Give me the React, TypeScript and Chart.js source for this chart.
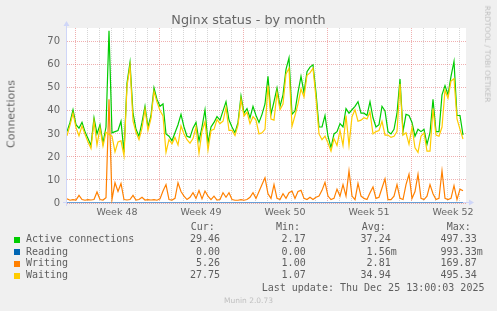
import React, { useEffect, useRef } from "react";
import { Chart, registerables } from "chart.js";

Chart.register(...registerables);

// ---- data (one sample every 6 hours) ----
const STEP_HOURS = 6;
const X_MAX_HOURS = 798;
const Y_MAX = 76;

const activeConnections = [
  31, 35, 40.5, 34, 32.5, 35, 31, 28, 25, 37, 30, 34, 26, 33, 74.8, 30.5, 31, 31.5, 35.5, 22, 52, 61, 39, 32, 29, 35, 42, 33, 38, 50, 45, 42, 43, 30,
  29, 27, 30.5, 34, 38.5, 33, 29, 28.5, 32.5, 35, 27, 33, 40.5, 26, 33, 35, 37.5, 36, 40, 44, 36, 33, 30.5, 35, 46.5, 39, 41, 37, 42, 38, 35, 38.5, 43,
  55, 38.5, 44, 50, 42, 47, 58, 63, 38.5, 40, 48, 55, 48, 57, 59, 60, 48, 33, 33, 38, 29, 24, 30, 31, 34.5, 33, 41, 39, 40.5, 42, 44, 39, 39,
  38, 44, 37, 33, 34, 42, 40, 31, 30, 32, 39, 53.8, 31, 38.5, 38, 35, 29, 32, 31, 32, 25.5, 30.5, 45, 31, 31, 47, 51, 47, 55, 61.5, 38, 38, 29.5,
];

const reading = [
  0, 0, 0, 0, 0, 0, 0, 0, 0, 0, 0, 0, 0, 0, 0, 0, 0, 0, 0, 0, 0, 0, 0, 0, 0, 0, 0, 0, 0, 0, 0, 0, 0, 0,
  0, 0, 0, 0, 0, 0, 0, 0, 0, 0, 0, 0, 0, 0, 0, 0, 0, 0, 0, 0, 0, 0, 0, 0, 0, 0, 0, 0, 0, 0, 0, 0, 0,
  0, 0, 0, 0, 0, 0, 0, 0, 0, 0, 0, 0, 0, 0, 0, 0, 0, 0, 0, 0, 0, 0, 0, 0, 0, 0, 0, 0, 0, 0, 0, 0, 0,
  0, 0, 0, 0, 0, 0, 0, 0, 0, 0, 0, 0, 0, 0, 0, 0, 0, 0, 0, 0, 0, 0, 0, 0, 0, 0, 0, 0, 0, 0, 0, 0, 0,
];

const writing = [
  1.8, 1.2, 1.5, 1.3, 3.3, 1.5, 1.2, 1.5, 1.3, 1.5, 4.8, 1.5, 1.3, 2.3, 45, 1.5, 8.8, 5, 8.5, 1.5, 1.3, 1.5, 3.3, 1.3, 1.5, 2.5, 1.3, 1.5, 1.3, 1.5, 1.2, 1.8, 5.2, 8,
  1.5, 1.3, 2, 8.8, 5, 3, 1.5, 2.5, 4.5, 2, 5.4, 1.8, 5.2, 3, 1.5, 3, 1.3, 1.5, 4.5, 2.5, 4.5, 1.5, 1.2, 1.2, 1.5, 1.2, 1.5, 2.5, 4.5, 2, 5, 8, 11,
  4, 2, 8, 2, 1.5, 4, 2, 4.5, 5.2, 2, 5, 5.5, 2, 1.5, 2.5, 1.5, 2.5, 3, 5.5, 9, 3, 1.5, 2, 6, 3, 8, 3, 14, 3, 1.5, 8.5, 3, 2,
  1.5, 4.5, 7, 2, 2.5, 6.5, 10.5, 1.5, 1.5, 3, 8, 2, 1.5, 8, 12.5, 2, 5, 12.5, 2, 1.5, 3, 8, 4, 1.5, 2, 14, 2, 1.5, 2, 7.5, 1.5, 6, 5.3,
];

const waiting = [
  29.2, 33.8, 39, 32.7, 29.2, 33.5, 29.8, 26.5, 23.7, 35.5, 25.2, 32.5, 24.7, 30.7, 29.8, 29, 22.2, 26.5, 27, 20.5, 50.7, 59.5, 35.7, 30.7, 27.5, 32.5, 40.7, 31.5, 36.7, 48.5, 43.8, 40.2, 37.8, 22,
  27.5, 25.7, 28.5, 25.2, 33.5, 30, 27.5, 26, 28, 33, 21.6, 31.2, 35.3, 23, 31.5, 32, 36.2, 34.5, 35.5, 41.5, 31.5, 31.5, 29.3, 33.8, 45, 37.8, 39.5, 34.5, 37.5, 36, 30, 30.5, 32,
  51, 36.5, 36, 48, 40.5, 43, 56, 58.5, 33.3, 38, 43, 49.5, 46, 55.5, 56.5, 58.5, 45.5, 30, 27.5, 29, 26, 22.5, 28, 25, 31.5, 25, 38, 25, 37.5, 40.5, 35.5, 36, 37,
  36.5, 39.5, 30, 31, 31.5, 35.5, 29.5, 29.5, 28.5, 29, 31, 51.8, 29.5, 30.5, 25.5, 33, 24, 22, 29, 30.5, 22.5, 22.5, 41, 29.5, 29, 33, 49, 45.5, 53, 54, 36.5, 32, 27.8,
];

const weekLabels = ["Week 48", "Week 49", "Week 50", "Week 51", "Week 52"];
const weekStartHours = [16, 184, 352, 520, 688]; // Monday 00:00 of each week
const yTickValues = [0, 5, 10, 15, 20, 25, 30, 35, 40, 45, 50, 55, 60, 65, 70, 75];

const legendRows = [
  { label: "Active connections", color: "#00cc00", cur: "29.46 ", min: "2.17 ", avg: "37.24 ", max: "497.33 " },
  { label: "Reading", color: "#0066b3", cur: "0.00 ", min: "0.00 ", avg: "1.56m", max: "993.33m" },
  { label: "Writing", color: "#ff8000", cur: "5.26 ", min: "1.00 ", avg: "2.81 ", max: "169.87 " },
  { label: "Waiting", color: "#ffcc00", cur: "27.75 ", min: "1.07 ", avg: "34.94 ", max: "495.34 " },
];

const GRID_MINOR = "rgba(140,140,140,0.36)";
const GRID_MAJOR = "rgba(222,79,79,0.45)";
const AXIS_COLOR = "#CFD6F8";
const TEXT_COLOR = "#666666";

function toPoints(values: number[]) {
  return values.map((v, i) => ({ x: i * STEP_HOURS, y: v }));
}

// x ticks every 12 hours so that both day lines and mid-week labels fall on ticks
const xTickHours: number[] = [];
for (let h = 4; h <= X_MAX_HOURS; h += 12) xTickHours.push(h);

const bgPlugin = {
  id: "canvasBg",
  beforeDraw(chart: any) {
    const { ctx, chartArea: a } = chart;
    ctx.save();
    ctx.fillStyle = "#ffffff";
    ctx.fillRect(a.left, a.top, a.right - a.left, a.bottom - a.top);
    ctx.restore();
  },
};

const axisPlugin = {
  id: "rrdAxes",
  beforeDatasetsDraw(chart: any) {
    const { ctx, chartArea: a } = chart;
    const x0 = a.left - 0.5;
    const y0 = a.bottom - 0.5;
    ctx.save();
    ctx.strokeStyle = AXIS_COLOR;
    ctx.fillStyle = AXIS_COLOR;
    ctx.lineWidth = 1;
    ctx.beginPath();
    ctx.moveTo(x0, a.bottom + 3);
    ctx.lineTo(x0, a.top - 3);
    ctx.moveTo(a.left - 4, y0);
    ctx.lineTo(a.right + 3, y0);
    ctx.stroke();
    // arrows
    ctx.beginPath();
    ctx.moveTo(x0 - 3, a.top - 2);
    ctx.lineTo(x0 + 3, a.top - 2);
    ctx.lineTo(x0, a.top - 7);
    ctx.closePath();
    ctx.fill();
    ctx.beginPath();
    ctx.moveTo(a.right + 3, y0 - 3);
    ctx.lineTo(a.right + 3, y0 + 3);
    ctx.lineTo(a.right + 8, y0);
    ctx.closePath();
    ctx.fill();
    ctx.restore();
  },
};

export default function App() {
  const ref = useRef<HTMLCanvasElement>(null);

  useEffect(() => {
    if (!ref.current) return;
    const line = (label: string, values: number[], color: string, order: number) => ({
      label,
      data: toPoints(values),
      borderColor: color,
      backgroundColor: color,
      borderWidth: 1.2,
      pointRadius: 0,
      tension: 0,
      fill: false,
      order,
    });
    const chart = new Chart(ref.current, {
      type: "line",
      data: {
        datasets: [
          line("Waiting", waiting, "#ffcc00", 0),
          line("Writing", writing, "#ff8000", 1),
          line("Reading", reading, "#0066b3", 2),
          line("Active connections", activeConnections, "#00cc00", 3),
        ],
      },
      options: {
        responsive: false,
        maintainAspectRatio: false,
        animation: false,
        devicePixelRatio: 1,
        layout: { padding: { left: 0, right: 31, top: 28, bottom: 0 } },
        plugins: {
          legend: { display: false },
          tooltip: { enabled: false },
          title: { display: false },
        },
        scales: {
          x: {
            type: "linear",
            min: 0,
            max: X_MAX_HOURS,
            afterBuildTicks: (s: any) => {
              s.ticks = xTickHours.map((v) => ({ value: v }));
            },
            afterFit: (s: any) => {
              s.height = 27;
            },
            grid: {
              drawTicks: false,
              lineWidth: 1,
              color: (c: any) => {
                const v = c.tick ? c.tick.value : 0;
                if (weekStartHours.includes(v)) return GRID_MAJOR;
                if ((v - 16) % 24 === 0) return GRID_MINOR;
                return "rgba(0,0,0,0)";
              },
            },
            border: { display: false, dash: [1, 1] },
            ticks: {
              autoSkip: false,
              maxRotation: 0,
              minRotation: 0,
              padding: 4,
              color: TEXT_COLOR,
              font: { family: "DejaVu Sans", size: 9.5 },
              callback: (v: any) => {
                const i = weekStartHours.findIndex((w) => w + 84 === v);
                return i >= 0 ? weekLabels[i] : "";
              },
            },
          },
          y: {
            min: 0,
            max: Y_MAX,
            afterBuildTicks: (s: any) => {
              s.ticks = yTickValues.map((v) => ({ value: v }));
            },
            afterFit: (s: any) => {
              s.width = 67;
            },
            grid: {
              drawTicks: false,
              lineWidth: 1,
              color: (c: any) => {
                const v = c.tick ? c.tick.value : 0;
                return v % 10 === 0 ? GRID_MAJOR : GRID_MINOR;
              },
            },
            border: { display: false, dash: [1, 1] },
            ticks: {
              padding: 7,
              color: TEXT_COLOR,
              font: { family: "DejaVu Sans", size: 10 },
              callback: (v: any) => (v % 10 === 0 ? String(v) : ""),
            },
          },
        },
      } as any,
      plugins: [bgPlugin, axisPlugin],
    });
    return () => chart.destroy();
  }, []);

  const mono: React.CSSProperties = {
    position: "absolute",
    fontFamily: "DejaVu Sans Mono",
    fontSize: 10,
    lineHeight: "12px",
    whiteSpace: "pre",
    color: "#5e5e5e",
  };
  const rowTops = [233.3, 245.7, 257.3, 269.3];
  const valueRights = [226, 311.7, 396.7, 482.7];
  const headers = [
    { t: "Cur:", x: 190.7 },
    { t: "Min:", x: 276 },
    { t: "Avg:", x: 361.7 },
    { t: "Max:", x: 446.7 },
  ];

  return (
    <div
      style={{
        position: "absolute",
        left: 0,
        top: 0,
        width: 497,
        height: 311,
        background: "#f0f0f0",
        overflow: "hidden",
        fontFamily: "DejaVu Sans",
        color: TEXT_COLOR,
      }}
    >
      <canvas ref={ref} width={497} height={230} style={{ position: "absolute", left: 0, top: 0 }} />
      <div
        style={{
          position: "absolute",
          left: 0,
          top: 11.6,
          width: 497,
          textAlign: "center",
          fontSize: 12.8,
          lineHeight: "16px",
          color: TEXT_COLOR,
          whiteSpace: "nowrap",
        }}
      >
        Nginx status - by month
      </div>
      <div
        style={{
          position: "absolute",
          left: 10.5,
          top: 114,
          fontSize: 11,
          lineHeight: "11px",
          whiteSpace: "nowrap",
          transform: "translate(-50%, -50%) rotate(-90deg)",
          color: TEXT_COLOR,
        }}
      >
        Connections
      </div>
      <div
        style={{
          position: "absolute",
          left: 487,
          top: 54,
          fontSize: 7.5,
          lineHeight: "8px",
          whiteSpace: "nowrap",
          transform: "translate(-50%, -50%) rotate(90deg)",
          color: "#c0c0c0",
        }}
      >
        RRDTOOL / TOBI OETIKER
      </div>
      {headers.map((h) => (
        <div key={h.t} style={{ ...mono, left: h.x, top: 221.3 }}>
          {h.t}
        </div>
      ))}
      {legendRows.map((r, i) => (
        <React.Fragment key={r.label}>
          <div
            style={{
              position: "absolute",
              left: 14,
              top: rowTops[i] + 3.4,
              width: 6,
              height: 6,
              background: r.color,
            }}
          />
          <div style={{ ...mono, left: 26, top: rowTops[i] }}>{r.label}</div>
          {[r.cur, r.min, r.avg, r.max].map((v, j) => (
            <div key={j} style={{ ...mono, right: 497 - valueRights[j], top: rowTops[i], textAlign: "right" }}>
              {v}
            </div>
          ))}
        </React.Fragment>
      ))}
      <div style={{ ...mono, left: 261.7, top: 281.7 }}>Last update: Thu Dec 25 13:00:03 2025</div>
      <div
        style={{
          position: "absolute",
          left: 0,
          width: 497,
          top: 296.2,
          textAlign: "center",
          fontSize: 7.5,
          lineHeight: "9px",
          color: "#c0c0c0",
          whiteSpace: "nowrap",
        }}
      >
        Munin 2.0.73
      </div>
    </div>
  );
}
